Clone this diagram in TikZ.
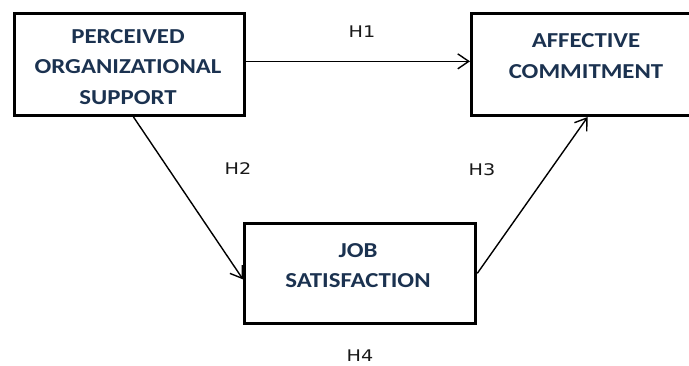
\documentclass[tikz,border=0pt]{standalone}
\usepackage{fontspec}
\setmainfont{Carlito}[FakeStretch=1.165]
\newfontfamily\hfont{DejaVu Sans}[FakeStretch=1.2]
\usetikzlibrary{arrows.meta,calc}
\definecolor{navy}{HTML}{1B3250}
\tikzset{
  box/.style={draw=black, line width=3.3pt, inner sep=0pt, fill=white},
  boxtext/.style={text=navy, font=\fontsize{21.3pt}{30.5pt}\selectfont\bfseries, align=center, inner sep=0pt},
  hlab/.style={font=\hfont\fontsize{16pt}{18pt}\selectfont, text=black!90, inner sep=0pt},
  conn/.style={line width=1.4pt, -{Straight Barb[length=11pt,width=15pt,line width=1.4pt]}}
}
\begin{document}
\begin{tikzpicture}[x=1pt,y=1pt]
\useasboundingbox (0,0) rectangle (689,365);
\fill[white] (0,0) rectangle (689,365);
% boxes
\node[box, minimum width=230.3pt, minimum height=102pt, anchor=south west] (pos) at (12.7,248) {};
\node[box, minimum width=225pt, minimum height=102pt, anchor=south west] (ac) at (470,248) {};
\node[box, minimum width=231pt, minimum height=100pt, anchor=south west] (js) at (243,40) {};
% texts
\node[boxtext] (posT) at (128,298) {PERCEIVED\\ORGANIZATIONAL\\SUPPORT};
\node[boxtext] (acT) at (586,309) {AFFECTIVE\\COMMITMENT};
\node[boxtext] (jsT) at (358,99.5) {JOB\\SATISFACTION};
% connectors
\draw[conn] ([yshift=3pt]pos.east) -- ([yshift=3pt]ac.west);
\draw[conn] ([xshift=4pt]pos.south) -- ([yshift=-6pt]js.west);
\draw[conn] (js.east) -- ([xshift=3.5pt]ac.south);
% labels
\node[hlab] (h1) at (362,333) {H1};
\node[hlab] (h2) at (238,196) {H2};
\node[hlab] (h3) at (482,195) {H3};
\node[hlab] (h4) at (360,9) {H4};
\end{tikzpicture}
\end{document}
